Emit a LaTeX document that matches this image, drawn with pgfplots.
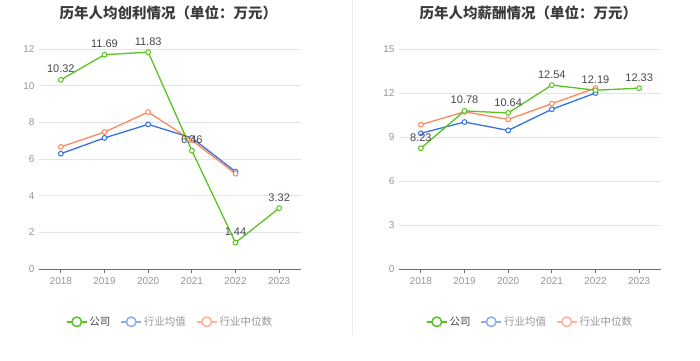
\documentclass[border=0pt]{standalone}
\usepackage{pgfplots}
\pgfplotsset{compat=1.18}
\usepackage{fontspec}
\setmainfont{Liberation Sans}
\newfontfamily\cjk{Noto Sans CJK SC}
\definecolor{cgreen}{RGB}{88,196,32}
\definecolor{cblue}{RGB}{52,112,230}
\definecolor{corange}{RGB}{255,134,92}
\definecolor{lgreen}{RGB}{88,196,32}
\definecolor{lblue}{RGB}{140,172,240}
\definecolor{lorange}{RGB}{255,178,150}
\definecolor{gridc}{RGB}{224,230,241}
\definecolor{tickc}{RGB}{150,150,150}
\definecolor{labc}{RGB}{70,70,70}
\definecolor{titc}{RGB}{60,60,60}
\definecolor{axc}{RGB}{110,110,110}
\pgfplotsset{
  mystyle/.style={
    anchor=south west, scale only axis, width=262pt, height=220pt,
    xmin=-0.5, xmax=5.5, ymin=0,
    xtick={0,1,2,3,4,5}, xticklabels={2018,2019,2020,2021,2022,2023},
    axis x line*=bottom, axis y line*=left,
    y axis line style={draw=none},
    x axis line style={draw=axc, line width=0.8pt},
    xtick style={draw=axc, line width=0.8pt}, ytick style={draw=none},
    xtick align=outside, major tick length=4pt,
    ymajorgrids, grid style={color=gridc, line width=0.6pt},
    tick label style={font=\fontsize{10}{12}\selectfont, text=tickc},
    /pgf/number format/assume math mode=true,
    yticklabel style={xshift=-1pt},
    xticklabel style={yshift=-1pt},
    clip=false,
    legend columns=-1,
    legend style={at={(0.5,-0.24)}, anchor=center, draw=none, fill=none,
      font=\cjk\fontsize{10.5}{12}\selectfont,
      /tikz/every even column/.append style={column sep=8pt}},
    legend image code/.code={
      \draw[##1, line width=1.5pt] (0pt,0pt) -- (20pt,0pt);
      \draw[##1, line width=1.5pt, fill=white] (10pt,0pt) circle (4.8pt);
    },
  },
  ser/.style={line width=1.3pt, mark=*, mark size=2.4pt,
    mark options={fill=white, line width=1pt}},
  lab/.style={nodes near coords, point meta=explicit symbolic,
    nodes near coords style={font=\fontsize{11}{13}\selectfont, text=labc, anchor=south, yshift=3pt}},
}
\begin{document}
\begin{tikzpicture}[x=1pt,y=1pt]
\useasboundingbox (0,0) rectangle (700,360);
\draw[color=gray!15, line width=0.8pt] (352,25) -- (352,360);
\node[font=\cjk\bfseries\fontsize{14.5}{16}\selectfont, text=titc, anchor=west, inner sep=0pt] at (59.5,347) {历年人均创利情况（单位：万元）};
\node[font=\cjk\bfseries\fontsize{14.5}{16}\selectfont, text=titc, anchor=west, inner sep=0pt] at (419.5,347) {历年人均薪酬情况（单位：万元）};
\begin{axis}[mystyle, at={(39pt,91pt)}, ymax=12, ytick={0,2,4,6,8,10,12}]
\addlegendimage{color=lgreen}
\addlegendentry{\textcolor{labc}{公司}}
\addlegendimage{color=lblue}
\addlegendentry{\textcolor{tickc}{行业均值}}
\addlegendimage{color=lorange}
\addlegendentry{\textcolor{tickc}{行业中位数}}
\addplot[ser, color=cblue, forget plot] coordinates {(0,6.29) (1,7.15) (2,7.89) (3,7.15) (4,5.31)};
\addplot[ser, color=corange, forget plot] coordinates {(0,6.66) (1,7.47) (2,8.56) (3,7.02) (4,5.20)};
\addplot[ser, lab, color=cgreen, forget plot] coordinates {(0,10.32)[10.32] (1,11.69)[11.69] (2,11.83)[11.83] (3,6.46)[6.46] (4,1.44)[1.44] (5,3.32)[3.32]};
\end{axis}
\begin{axis}[mystyle, at={(399pt,91pt)}, ymax=15, ytick={0,3,6,9,12,15}]
\addlegendimage{color=lgreen}
\addlegendentry{\textcolor{labc}{公司}}
\addlegendimage{color=lblue}
\addlegendentry{\textcolor{tickc}{行业均值}}
\addlegendimage{color=lorange}
\addlegendentry{\textcolor{tickc}{行业中位数}}
\addplot[ser, color=cblue, forget plot] coordinates {(0,9.25) (1,10.02) (2,9.45) (3,10.89) (4,12.0)};
\addplot[ser, color=corange, forget plot] coordinates {(0,9.84) (1,10.72) (2,10.2) (3,11.27) (4,12.34)};
\addplot[ser, lab, color=cgreen, forget plot] coordinates {(0,8.23)[8.23] (1,10.78)[10.78] (2,10.64)[10.64] (3,12.54)[12.54] (4,12.19)[12.19] (5,12.33)[12.33]};
\end{axis}
\end{tikzpicture}
\end{document}
